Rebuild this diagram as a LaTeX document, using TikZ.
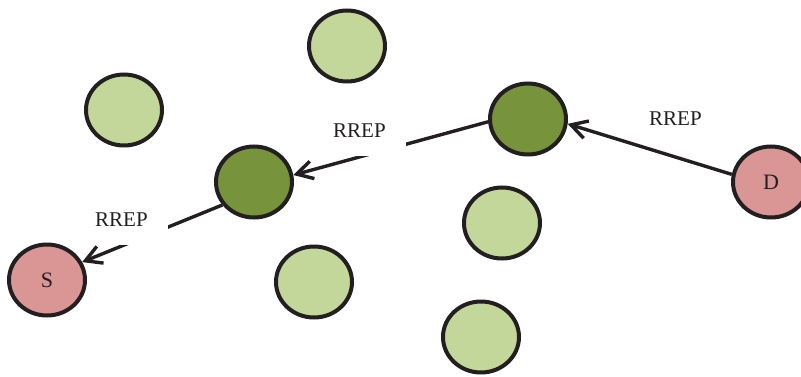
\documentclass[tikz,border=0pt]{standalone}
\usepackage{fontspec}
\setmainfont{Liberation Serif}
\usepackage{xcolor}
\usetikzlibrary{shapes.geometric,arrows.meta,positioning}
\definecolor{idlenode}{RGB}{196,215,155}
\definecolor{relaynode}{RGB}{119,147,60}
\definecolor{endnode}{RGB}{217,150,148}
\definecolor{outline}{RGB}{35,31,32}

\begin{document}
\begin{tikzpicture}[
    x=1pt, y=1pt,
    every node/.style={text=outline},
    host/.style={ellipse, draw=outline, line width=4pt, minimum width=76pt, minimum height=71pt, inner sep=0pt, font=\fontsize{22}{22}\selectfont},
    idle/.style={host, fill=idlenode},
    relay/.style={host, fill=relaynode},
    peer/.style={host, fill=endnode},
    msg/.style={fill=white, inner sep=0pt, anchor=base west, text width=73pt, align=left, text depth=18.5pt, font=\fontsize{21}{21}\selectfont},
    arrow/.style={{Straight Barb[length=16pt, width=18pt]}-, draw=outline, line width=3.4pt},
]
\useasboundingbox (0,0) rectangle (801,376);

% Nodes not on the route
\node[idle] (n_top) at (347, 330) {};
\node[idle] (n_left) at (124, 266) {};
\node[idle] (n_bottom) at (314, 94) {};
\node[idle] (n_mid) at (502, 153) {};
\node[idle] (n_low) at (481, 39) {};

% Source, destination and relays
\node[peer] (src) at (47, 96) {S};
\node[peer] (dst) at (771, 194) {D};
\node[relay] (relay_a) at (254, 194) {};
\node[relay] (relay_b) at (528, 257) {};

% Reply path back to the source
\draw[arrow] (relay_b.353) -- (dst.169);
\draw[arrow] (relay_a.10) -- (relay_b.184);
\draw[arrow] (src.27) -- (relay_a.216);

% Labels
\node[msg] (rrep_a) at (95, 150) {RREP};
\node[msg] (rrep_b) at (333, 239) {RREP};
\node[msg] (rrep_c) at (649, 251) {RREP};

\end{tikzpicture}
\end{document}
